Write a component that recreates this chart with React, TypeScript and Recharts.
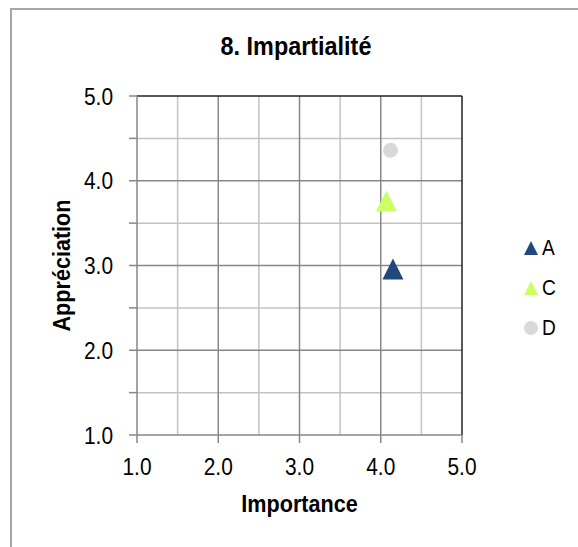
import React from 'react';
import { ScatterChart, Scatter, XAxis, YAxis, ReferenceLine, Legend } from 'recharts';

// données
const seriesNames = ['A', 'C', 'D'];
const importance = [4.15, 4.07, 4.12];
const appreciation = [2.96, 3.76, 4.36];
const seriesColors = ['#1f497d', '#ccff66', '#d9d9d9'];
const seriesMarkers = ['triangle', 'triangle', 'circle'];

const xTicks = [1, 2, 3, 4, 5];
const yTicks = [1, 1.5, 2, 2.5, 3, 3.5, 4, 4.5, 5];
const minorLines = [1.5, 2.5, 3.5, 4.5];
const majorLines = [2, 3, 4];

const FONT = "'Liberation Sans', Arial, sans-serif";
const NARROW = 0.87; // pas d'Arial Narrow installée, on compresse
const GRID_MAJOR = '#878787';
const GRID_MINOR = '#c3c3c3';

const makeShape = (marker: string, color: string) => (props: any) => {
    const { cx, cy } = props;
    if (marker === 'circle') return <circle cx={cx} cy={cy} r={7.5} fill={color} />;
    return <polygon points={`${cx},${cy - 10.5} ${cx + 10.5},${cy + 10.5} ${cx - 10.5},${cy + 10.5}`} fill={color} />;
};

const XTick = ({ x, y, payload }: any) => (
    <g transform={`translate(${x},${y}) scale(${NARROW},1)`}>
        <text x={0} y={0} dy="0.71em" textAnchor="middle" fontSize={24} fill="#000">{payload.value.toFixed(1)}</text>
    </g>
);

const YTick = ({ x, y, payload }: any) => {
    if (!Number.isInteger(payload.value)) return null;
    return (
        <g transform={`translate(${x},${y}) scale(${NARROW},1)`}>
            <text x={0} y={0} dy="0.355em" textAnchor="end" fontSize={24} fill="#000">{payload.value.toFixed(1)}</text>
        </g>
    );
};

const LegendBox = () => (
    <div style={{ fontFamily: FONT, fontSize: 22, color: '#000' }}>
        {seriesNames.map((name, i) => (
            <div key={name} style={{ display: 'flex', alignItems: 'center', height: 40 }}>
                <svg width={16} height={16} style={{ marginRight: 3 }}>
                    {seriesMarkers[i] === 'circle'
                        ? <circle cx={8} cy={8} r={7} fill={seriesColors[i]} />
                        : <polygon points="8,1 15,15 1,15" fill={seriesColors[i]} />}
                </svg>
                <span style={{ display: 'inline-block', transform: `scaleX(${NARROW})`, transformOrigin: 'left center' }}>{name}</span>
            </div>
        ))}
    </div>
);

export default function App() {
    return (
        <div style={{ position: 'absolute', left: 0, top: 0, width: 578, height: 547, overflow: 'hidden', background: '#fff', fontFamily: FONT }}>
            <div style={{ position: 'absolute', left: 10, top: 8, width: 590, height: 580, border: '2px solid #a6a6a6', boxSizing: 'border-box' }} />
            <div style={{ position: 'absolute', left: 0, width: 592, top: 31, textAlign: 'center', fontSize: 26, lineHeight: '30px', fontWeight: 'bold', color: '#000', transform: 'scaleX(0.9)', transformOrigin: '296px 0' }}>
                8. Impartialité
            </div>
            <div style={{ position: 'absolute', left: 0, top: 0 }}>
                <ScatterChart width={578} height={547} margin={{ top: 96, right: 116, bottom: 52, left: 77 }}>
                    {minorLines.map((v) => (
                        <ReferenceLine key={'vx' + v} x={v} stroke={GRID_MINOR} strokeWidth={1.5} />
                    ))}
                    {minorLines.map((v) => (
                        <ReferenceLine key={'hy' + v} y={v} stroke={GRID_MINOR} strokeWidth={1.5} />
                    ))}
                    {majorLines.map((v) => (
                        <ReferenceLine key={'VX' + v} x={v} stroke={GRID_MAJOR} strokeWidth={1.5} />
                    ))}
                    {majorLines.map((v) => (
                        <ReferenceLine key={'HY' + v} y={v} stroke={GRID_MAJOR} strokeWidth={1.5} />
                    ))}
                    <ReferenceLine x={5} stroke="#222" strokeWidth={1.5} />
                    <ReferenceLine y={5} stroke="#222" strokeWidth={1.5} />
                    <XAxis
                        type="number"
                        dataKey="x"
                        domain={[1, 5]}
                        ticks={xTicks}
                        height={60}
                        stroke={GRID_MAJOR}
                        strokeWidth={1.5}
                        tickSize={8}
                        tickMargin={15}
                        tick={<XTick />}
                        label={{
                            content: ({ viewBox }: any) => {
                                const x = viewBox.x + viewBox.width / 2;
                                const y = 495;
                                return (
                                    <g transform={`translate(${x},${y}) scale(0.9,1)`}>
                                        <text x={0} y={0} dy="0.71em" textAnchor="middle" fontSize={24} fontWeight="bold" fill="#000">Importance</text>
                                    </g>
                                );
                            },
                        }}
                    />
                    <YAxis
                        type="number"
                        dataKey="y"
                        domain={[1, 5]}
                        ticks={yTicks}
                        interval={0}
                        width={60}
                        stroke={GRID_MAJOR}
                        strokeWidth={1.5}
                        tickSize={8}
                        tickMargin={16}
                        tick={<YTick />}
                        label={{
                            content: ({ viewBox }: any) => {
                                const x = viewBox.x - 15;
                                const y = viewBox.y + viewBox.height / 2;
                                return (
                                    <g transform={`translate(${x},${y}) rotate(-90) scale(0.9,1)`}>
                                        <text x={0} y={0} textAnchor="middle" dominantBaseline="central" fontSize={24} fontWeight="bold" fill="#000">
                                            Appréciation
                                        </text>
                                    </g>
                                );
                            },
                        }}
                    />
                    {seriesNames.map((name, i) => (
                        <Scatter
                            key={name}
                            name={name}
                            data={[{ x: importance[i], y: appreciation[i] }]}
                            fill={seriesColors[i]}
                            shape={makeShape(seriesMarkers[i], seriesColors[i])}
                            isAnimationActive={false}
                        />
                    ))}
                    <Legend
                        layout="horizontal"
                        verticalAlign="middle"
                        align="center"
                        content={() => <LegendBox />}
                        wrapperStyle={{ left: 523, top: 228, width: 60 }}
                    />
                </ScatterChart>
            </div>
        </div>
    );
}
